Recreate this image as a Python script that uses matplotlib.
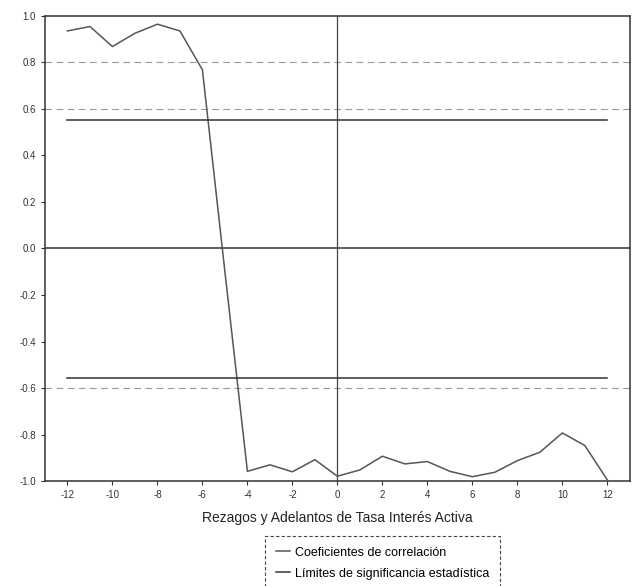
#!/usr/bin/env python
#
# plot.py - correlaciones cruzadas, tasa interes activa
#

import numpy as np
import matplotlib.pyplot as plt

plt.rcParams['font.family'] = ['Liberation Sans', 'DejaVu Sans']

# rezagos / adelantos
lags = list(range(-12, 13))

# coeficientes de correlacion
corr = [0.935, 0.954, 0.868, 0.925, 0.964, 0.935, 0.768, -0.10,
        -0.958, -0.93, -0.96, -0.908, -0.979, -0.952, -0.893, -0.926,
        -0.916, -0.958, -0.981, -0.962, -0.912, -0.876, -0.793, -0.847,
        -0.995]

# limites de significancia
lim_sup = 0.551
lim_inf = -0.555

yticks = [1.0, 0.8, 0.6, 0.4, 0.2, 0.0, -0.2, -0.4, -0.6, -0.8, -1.0]
xticks = [-12, -10, -8, -6, -4, -2, 0, 2, 4, 6, 8, 10, 12]
xlabel = 'Rezagos y Adelantos de Tasa Interés Activa'
leg_labels = ['Coeficientes de correlación',
              'Límites de significancia estadística']


def main():
    fig = plt.figure(figsize=(6.33, 5.86), dpi=100)
    ax = fig.add_axes([0.071, 0.179, 0.924, 0.794])

    # rejilla punteada (apenas visible en el original)
    for g in [0.8, 0.6, -0.6]:
        ax.axhline(g, color='#9a9a9a', lw=0.8, ls=(0, (6, 4)), zorder=1)

    ax.axhline(0, color='#333333', lw=1.1, zorder=2)
    ax.axvline(0, color='#444444', lw=0.9, zorder=2)

    l1, = ax.plot(lags, corr, color='#555555', lw=1.1, zorder=3)
    l2, = ax.plot([lags[0], lags[-1]], [lim_sup, lim_sup],
                  color='#333333', lw=1.1, zorder=3)
    ax.plot([lags[0], lags[-1]], [lim_inf, lim_inf],
            color='#333333', lw=1.1, zorder=3)

    ax.set_xlim(-13, 13)
    ax.set_ylim(-1.0, 1.0)
    ax.set_yticks(yticks)
    ax.set_yticklabels(['%.1f' % v for v in yticks])
    ax.set_xticks(xticks)
    ax.set_xticklabels([str(v) for v in xticks])
    ax.tick_params(labelsize=7, length=3, width=0.8, colors='#333333')

    for s in ax.spines.values():
        s.set_linewidth(1.1)
        s.set_color('#333333')

    ax.set_xlabel(xlabel, fontsize=10, labelpad=8, color='#222222')

    leg = fig.legend([l1, l2], leg_labels, loc='upper left',
                     bbox_to_anchor=(0.418, 0.086), borderaxespad=0,
                     fontsize=9, handlelength=1.1, handletextpad=0.4,
                     labelspacing=0.7, borderpad=0.9,
                     fancybox=False, framealpha=1)
    leg.get_frame().set_linestyle((0, (3, 2)))
    leg.get_frame().set_edgecolor('#444444')
    leg.get_frame().set_linewidth(0.8)

    plt.savefig('out.png', dpi=100)


if __name__ == '__main__':
    main()
